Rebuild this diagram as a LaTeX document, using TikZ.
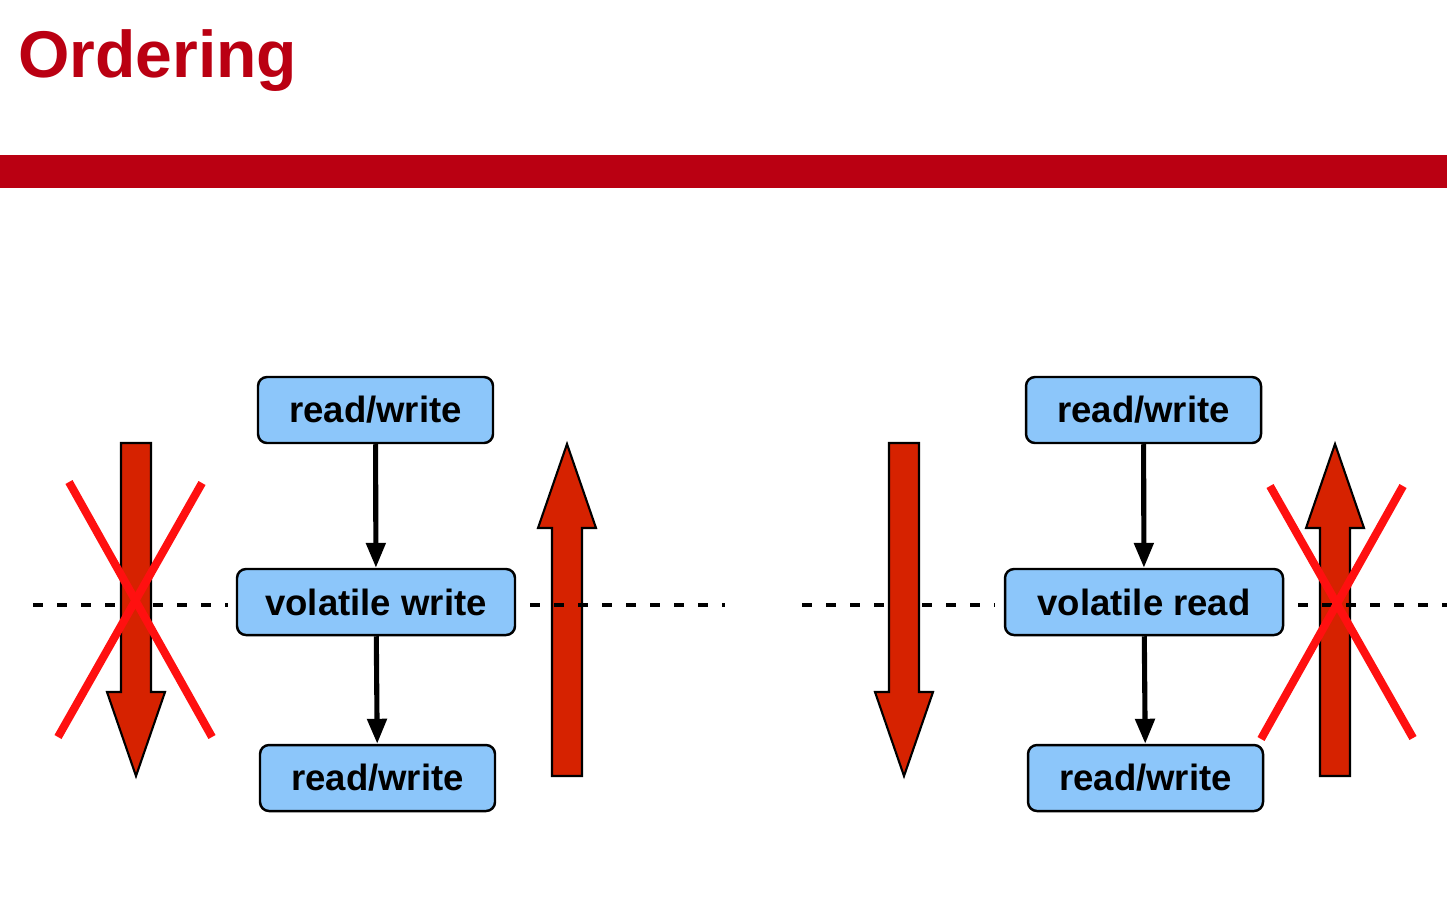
\documentclass[tikz,border=0pt]{standalone}
\usepackage{fontspec}
\setmainfont{Liberation Sans}
\usepackage{tikz}
\usetikzlibrary{arrows.meta}
\definecolor{slidered}{RGB}{186,0,18}
\definecolor{boxblue}{RGB}{140,198,250}
\definecolor{bigred}{RGB}{214,34,0}
\definecolor{crossred}{RGB}{255,16,16}

\begin{document}
\begin{tikzpicture}[
  op/.style={draw, rounded corners=0.09cm, fill=boxblue, line width=0.7pt, minimum width=2.35cm, minimum height=0.66cm, inner sep=0pt, font=\fontsize{10.4}{12}\selectfont\bfseries},
  vol/.style={op, minimum width=2.78cm},
  flow/.style={line width=1.45pt, -{Triangle[length=0.25cm,width=0.19cm]}},
  sep/.style={line width=1.1pt, dash pattern=on 0.10cm off 0.14cm},
  bigarrow/.style={draw, fill=bigred, line width=0.6pt, line join=miter},
  cross/.style={draw=crossred, line width=2.3pt}
]
  \useasboundingbox (0,0) rectangle (14.47,-9);

  % Title
  \node[anchor=base west, inner sep=0pt, text=slidered, font=\fontsize{18.8}{22}\selectfont\bfseries] (title) at (0.175,-0.77) {Ordering};
  \fill[slidered] (0,-1.55) rectangle (14.47,-1.88);

  % Left column
  \node[op] (rwL1) at (3.755,-4.10) {read/write};
  \node[vol] (volL) at (3.76,-6.02) {volatile write};
  \node[op] (rwL2) at (3.775,-7.78) {read/write};

  % Right column
  \node[op] (rwR1) at (11.435,-4.10) {read/write};
  \node[vol] (volR) at (11.44,-6.02) {volatile read};
  \node[op] (rwR2) at (11.455,-7.78) {read/write};

  % Up arrows (under the dashed lines)
  \foreach \x in {5.67,13.35} {
  \draw[bigarrow] (\x-0.15,-7.76) -- (\x+0.15,-7.76) -- (\x+0.15,-5.28) -- (\x+0.29,-5.28)
    -- (\x,-4.44) -- (\x-0.29,-5.28) -- (\x-0.15,-5.28) -- cycle;
  }

  % Dashed lines
  \coordinate (sepA) at (0.33,-6.05);
  \coordinate (sepB) at (2.28,-6.05);
  \coordinate (sepC) at (5.30,-6.05);
  \coordinate (sepD) at (7.25,-6.05);
  \coordinate (sepE) at (8.02,-6.05);
  \coordinate (sepF) at (9.95,-6.05);
  \coordinate (sepG) at (12.98,-6.05);
  \coordinate (sepH) at (14.47,-6.05);
  \draw[sep] (sepA) -- (sepB);
  \draw[sep] (sepC) -- (sepD);
  \draw[sep] (sepE) -- (sepF);
  \draw[sep] (sepG) -- (sepH);

  % Down arrows
  \foreach \x in {1.36,9.04} {
  \draw[bigarrow] (\x-0.15,-4.43) -- (\x+0.15,-4.43) -- (\x+0.15,-6.92) -- (\x+0.29,-6.92)
    -- (\x,-7.76) -- (\x-0.29,-6.92) -- (\x-0.15,-6.92) -- cycle;
  }

  % Crosses
  \draw[cross] (0.69,-4.82) -- (2.12,-7.37);
  \draw[cross] (2.02,-4.83) -- (0.58,-7.37);
  \draw[cross] (12.70,-4.86) -- (14.13,-7.38);
  \draw[cross] (14.03,-4.86) -- (12.61,-7.39);

  % Arrows
  \foreach \s in {L,R} {
  \draw[flow] (rw\s1) -- (vol\s);
  \draw[flow] (vol\s) -- (rw\s2);
  }
\end{tikzpicture}
\end{document}
